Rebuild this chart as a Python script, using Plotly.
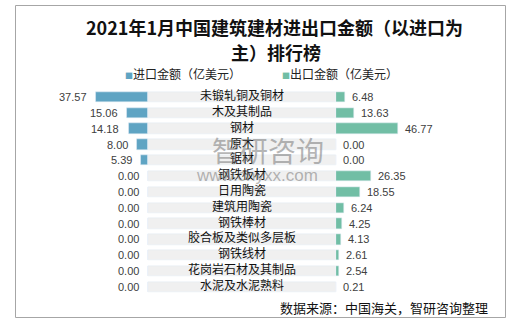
import plotly.graph_objects as go

categories = ["未锻轧铜及铜材", "木及其制品", "钢材", "原木", "锯材", "钢铁板材", "日用陶瓷",
              "建筑用陶瓷", "钢铁棒材", "胶合板及类似多层板", "钢铁线材", "花岗岩石材及其制品", "水泥及水泥熟料"]
import_vals = [37.57, 15.06, 14.18, 8.00, 5.39, 0.00, 0.00, 0.00, 0.00, 0.00, 0.00, 0.00, 0.00]
export_vals = [6.48, 13.63, 46.77, 0.00, 0.00, 26.35, 18.55, 6.24, 4.25, 4.13, 2.61, 2.54, 0.21]
band_vals = [1] * len(categories)

title_line1 = "2021年1月中国建筑建材进出口金额（以进口为"
title_line2 = "主）排行榜"
legend_import = "进口金额（亿美元）"
legend_export = "出口金额（亿美元）"
source_text = "数据来源：中国海关，智研咨询整理"

W, H = 515, 325
C_IMP = "#5fa4c3"
C_EXP = "#71bea5"
C_BAND = "#f0f0f0"
CJK = "Noto Sans CJK SC"
NUM = "Liberation Sans"

def px(x):
    return x / W

def py(y):
    return 1 - y / H

fig = go.Figure()
bw = 0.66
fig.add_trace(go.Bar(y=categories, x=import_vals, orientation="h", marker_color=C_IMP,
                     width=bw, xaxis="x", yaxis="y", showlegend=False, hoverinfo="skip"))
fig.add_trace(go.Bar(y=categories, x=band_vals, orientation="h", marker_color=C_BAND,
                     width=bw, xaxis="x2", yaxis="y", showlegend=False, hoverinfo="skip"))
fig.add_trace(go.Scatter(y=categories, x=[0.5] * len(categories), mode="text", text=categories,
                         textposition="middle center", textfont=dict(family=CJK, size=12, color="#111111"),
                         xaxis="x2", yaxis="y", showlegend=False, hoverinfo="skip"))
fig.add_trace(go.Bar(y=categories, x=export_vals, orientation="h", marker_color=C_EXP,
                     width=bw, xaxis="x3", yaxis="y", showlegend=False, hoverinfo="skip"))

annotations = []
for c, v in zip(categories, import_vals):
    annotations.append(dict(x=v, y=c, xref="x", yref="y", text=f"{v:.2f}", showarrow=False,
                            xanchor="right", yanchor="middle", xshift=-7,
                            font=dict(family=NUM, size=11, color="#404040")))
for c, v in zip(categories, export_vals):
    annotations.append(dict(x=v, y=c, xref="x3", yref="y", text=f"{v:.2f}", showarrow=False,
                            xanchor="left", yanchor="middle", xshift=5,
                            font=dict(family=NUM, size=11, color="#404040")))

def paper_text(x, y, text, size, family=CJK, color="#111111", xanchor="center"):
    return dict(x=px(x), y=py(y), xref="paper", yref="paper", text=text, showarrow=False,
                xanchor=xanchor, yanchor="middle", font=dict(family=family, size=size, color=color))

annotations.append(paper_text(274, 27, f"<b>{title_line1}</b>", 18))
annotations.append(paper_text(276, 52, f"<b>{title_line2}</b>", 18))
annotations.append(paper_text(123, 73, f'<span style="color:{C_IMP};font-size:8px">■</span>{legend_import}',
                              12, color="#222222", xanchor="left"))
annotations.append(paper_text(280, 73, f'<span style="color:{C_EXP};font-size:8px">■</span>{legend_export}',
                              12, color="#222222", xanchor="left"))
annotations.append(paper_text(278, 307, source_text, 13, xanchor="left"))
annotations.append(paper_text(268, 150, "智研咨询", 28, color="rgba(110,110,110,0.5)"))
annotations.append(paper_text(257, 175, "www.chyxx.com", 17, family=NUM, color="rgba(110,110,110,0.5)"))

top, bottom = 89.1, 294.9
fig.update_layout(
    width=W, height=H, margin=dict(l=0, r=0, t=0, b=0),
    paper_bgcolor="white", plot_bgcolor="rgba(0,0,0,0)",
    barmode="overlay", bargap=0,
    xaxis=dict(domain=[px(148 - 40 * 1.38), px(148)], range=[40, 0], visible=False, fixedrange=True),
    xaxis2=dict(domain=[px(148), px(336)], range=[0, 1], visible=False, anchor="y"),
    xaxis3=dict(domain=[px(336), px(336 + 50 * 1.32)], range=[0, 50], visible=False, anchor="y"),
    yaxis=dict(domain=[py(bottom), py(top)], range=[len(categories) - 0.5, -0.5], visible=False,
               type="category", categoryorder="array", categoryarray=categories),
    annotations=annotations,
    shapes=[dict(type="rect", xref="paper", yref="paper", x0=px(15.5), x1=px(505.5), y0=py(317.5), y1=py(5.5),
                 line=dict(color="#a6a6a6", width=1))],
)

fig.write_html("out.html")
